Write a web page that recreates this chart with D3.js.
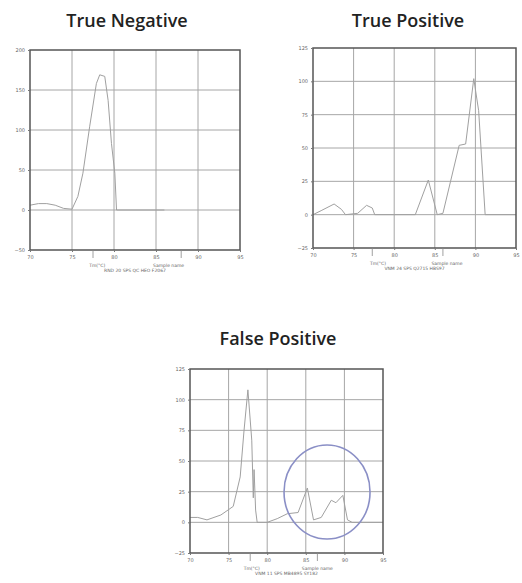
<!DOCTYPE html>
<html>
<head>
<meta charset="utf-8">
<script src="https://cdn.jsdelivr.net/npm/d3@7"></script>
<style>
  body { margin: 0; background: #fff; }
  svg { display: block; }
</style>
</head>
<body>
<script>
// melt curve panels (temperature vs -dF/dT)
var xTicks = [70, 75, 80, 85, 90, 95];
var tnYTicks = [-50, 0, 50, 100, 150, 200];
var posYTicks = [-25, 0, 25, 50, 75, 100, 125];

var tnTemp  = [70, 71, 72, 73, 74, 75, 75.7, 76.3, 77.1, 77.9, 78.3, 78.9, 79.3, 79.7, 80.1, 80.3, 86];
var tnValue = [6, 8, 8, 6, 2, 1, 17, 46, 104, 158, 169, 167, 137, 83, 46, 0, 0];

var tpTemp  = [70, 71, 72.6, 73.5, 74, 75.5, 76.6, 77.3, 77.6, 82.6, 84.2, 85.3, 86, 88, 88.8, 89.8, 90.4, 91.2, 95];
var tpValue = [0, 3, 8, 4, 0, 1, 7, 5, 0, 0, 26, 0, 1, 52, 53, 102, 78, 0, 0];

var fpTemp  = [70, 71, 72.2, 74, 75.6, 76.5, 77, 77.5, 78, 78.2, 78.3, 78.5, 78.7, 80, 81.3, 82.6, 84, 85.2, 86, 87, 88.3, 88.9, 89.8, 90.4, 91, 95];
var fpValue = [4, 4, 2, 6, 13, 37, 75, 108, 67, 20, 43, 10, 0, 0, 3, 7, 8, 28, 2, 4, 18, 16, 22, 2, 0, 0];

var panels = [
  {title: "True Negative",  t: tnTemp, v: tnValue, yTicks: tnYTicks,  left: 30,  right: 240, top: 50,  bottom: 250, tx: 127, ty: 27,
   sub1: "Tm(°C)", sub2: "RND 20 SPS QC HEO F2067", extra: [77.5, 88]},
  {title: "True Positive",  t: tpTemp, v: tpValue, yTicks: posYTicks, left: 313, right: 516, top: 48,  bottom: 248, tx: 408, ty: 27,
   sub1: "Tm(°C)", sub2: "VNM 24 SPS Q2715 HBS97", extra: [77.3, 86]},
  {title: "False Positive", t: fpTemp, v: fpValue, yTicks: posYTicks, left: 190, right: 383, top: 369, bottom: 553, tx: 278, ty: 345,
   sub1: "Tm(°C)", sub2: "VNM 11 SPS MB4895 SY182", extra: [77.8, 86.5]}
];

var svg = d3.select("body").append("svg").attr("width", 522).attr("height", 583);

panels.forEach(function(p) {
  var x = d3.scaleLinear().domain([70, 95]).range([p.left, p.right]);
  var y = d3.scaleLinear().domain([p.yTicks[0], p.yTicks[p.yTicks.length - 1]]).range([p.bottom, p.top]);
  var g = svg.append("g");

  g.append("text")
    .attr("x", p.tx).attr("y", p.ty)
    .attr("text-anchor", "middle")
    .attr("font-family", "Open Sans")
    .attr("font-size", 18)
    .attr("font-weight", 600)
    .attr("fill", "#222")
    .text(p.title);

  // grid
  g.append("g").selectAll("line").data(xTicks.slice(1, -1)).enter().append("line")
    .attr("x1", d => x(d)).attr("x2", d => x(d))
    .attr("y1", p.top).attr("y2", p.bottom)
    .attr("stroke", "#a6a6a6").attr("stroke-width", 1);
  g.append("g").selectAll("line").data(p.yTicks.slice(1, -1)).enter().append("line")
    .attr("x1", p.left).attr("x2", p.right)
    .attr("y1", d => y(d)).attr("y2", d => y(d))
    .attr("stroke", "#a6a6a6").attr("stroke-width", 1);

  // curve
  var line = d3.line().x((d, i) => x(p.t[i])).y(d => y(d));
  g.append("path")
    .attr("d", line(p.v))
    .attr("fill", "none")
    .attr("stroke", "#a0a0a0")
    .attr("stroke-width", 1);

  // frame
  g.append("rect")
    .attr("x", p.left).attr("y", p.top)
    .attr("width", p.right - p.left).attr("height", p.bottom - p.top)
    .attr("fill", "none").attr("stroke", "#555").attr("stroke-width", 1.5);

  // axes
  var ax = d3.axisBottom(x).tickValues(xTicks).tickSize(2);
  var xa = g.append("g").attr("transform", "translate(0," + p.bottom + ")").call(ax);
  var ay = d3.axisLeft(y).tickValues(p.yTicks).tickSize(2);
  var ya = g.append("g").attr("transform", "translate(" + p.left + ",0)").call(ay);
  [xa, ya].forEach(function(a) {
    a.select(".domain").remove();
    a.selectAll("line").attr("stroke", "#777");
    a.selectAll("text").attr("fill", "#666").attr("font-size", 5).attr("font-family", "DejaVu Sans");
  });

  g.append("g").selectAll("line").data(p.extra).enter().append("line")
    .attr("x1", d => x(d)).attr("x2", d => x(d))
    .attr("y1", p.bottom).attr("y2", p.bottom + 8)
    .attr("stroke", "#888").attr("stroke-width", 0.8);

  g.append("text")
    .attr("x", x(78)).attr("y", p.bottom + 17)
    .attr("text-anchor", "middle").attr("font-size", 4.5).attr("fill", "#666")
    .attr("font-family", "DejaVu Sans").text(p.sub1);
  g.append("text")
    .attr("x", x(86.5)).attr("y", p.bottom + 17)
    .attr("text-anchor", "middle").attr("font-size", 4.5).attr("fill", "#666")
    .attr("font-family", "DejaVu Sans").text("Sample name");
  g.append("text")
    .attr("x", x(82.5)).attr("y", p.bottom + 22)
    .attr("text-anchor", "middle").attr("font-size", 4.5).attr("fill", "#666")
    .attr("font-family", "DejaVu Sans").text(p.sub2);
});

// circled region on the false positive panel
var fp = panels[2];
var fx = d3.scaleLinear().domain([70, 95]).range([fp.left, fp.right]);
var fy = d3.scaleLinear().domain([-25, 125]).range([fp.bottom, fp.top]);
svg.append("ellipse")
  .attr("cx", fx(87.75)).attr("cy", fy(24.7))
  .attr("rx", 43).attr("ry", 47)
  .attr("fill", "none")
  .attr("stroke", "#8a8fc6")
  .attr("stroke-width", 1.6);
</script>
</body>
</html>
